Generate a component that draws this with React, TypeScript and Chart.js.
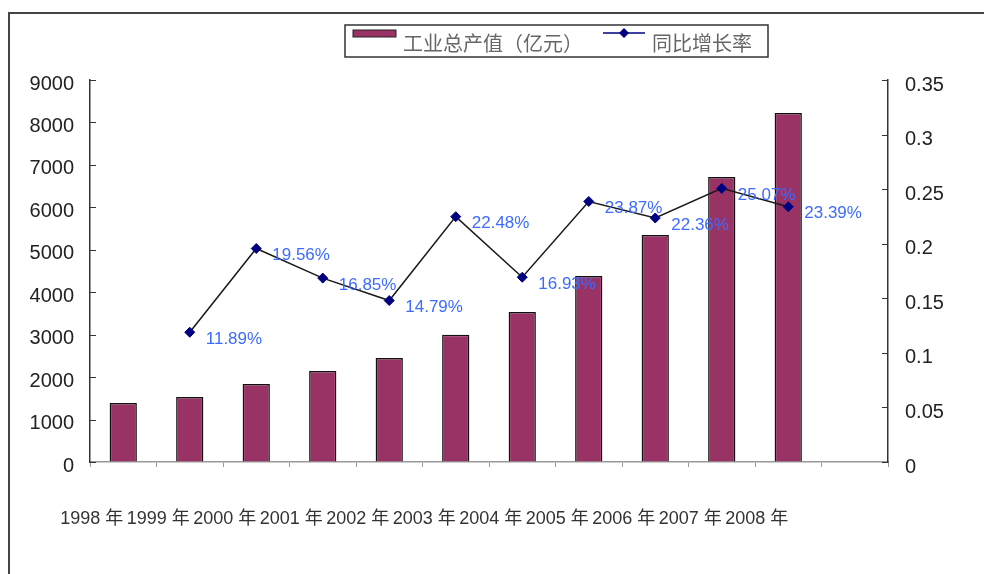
import React, { useEffect, useRef } from "react";
import { Chart, registerables } from "chart.js";

Chart.register(...registerables);

const categories = ["1998 年", "1999 年", "2000 年", "2001 年", "2002 年", "2003 年", "2004 年", "2005 年", "2006 年", "2007 年", "2008 年", ""];
const outputValues = [1390, 1530, 1840, 2145, 2450, 3000, 3535, 4380, 5350, 6715, 8225, null];
const growthRates = [null, 0.1189, 0.1956, 0.1685, 0.1479, 0.2248, 0.1693, 0.2387, 0.2236, 0.2507, 0.2339, null];
const leftTicks = [0, 1000, 2000, 3000, 4000, 5000, 6000, 7000, 8000, 9000];
const rightTickLabels = ["0", "0.05", "0.1", "0.15", "0.2", "0.25", "0.3", "0.35"];
const legendLabels = ["工业总产值（亿元）", "同比增长率"];

const BAR_COLOR = "#993366";
const LINE_COLOR = "#1a1a1a";
const MARKER_COLOR = "#000080";
const LABEL_BLUE = "#3d6bff";
const FONT = '"Liberation Sans", Arial, "Noto Sans CJK SC", sans-serif';
const CJK_FONT = '"Noto Sans CJK SC", "Liberation Sans", sans-serif';

const decorPlugin = {
  id: "decor",
  beforeDraw(chart: any) {
    const ctx = chart.ctx;
    ctx.save();
    ctx.fillStyle = "#ffffff";
    ctx.fillRect(0, 0, chart.width, chart.height);
    // outer frame
    ctx.strokeStyle = "#444";
    ctx.lineWidth = 2;
    ctx.beginPath();
    ctx.moveTo(9, chart.height);
    ctx.lineTo(9, 13);
    ctx.lineTo(chart.width, 13);
    ctx.stroke();
    ctx.restore();
  },
  afterDraw(chart: any) {
    const ctx = chart.ctx;
    const area = chart.chartArea;
    ctx.save();
    // inward tick marks on the value axes
    ctx.strokeStyle = "#333";
    ctx.lineWidth = 1;
    const ys = chart.scales.y;
    leftTicks.forEach((v) => {
      const py = Math.round(ys.getPixelForValue(v)) + 0.5;
      ctx.beginPath();
      ctx.moveTo(area.left, py);
      ctx.lineTo(area.left + 6, py);
      ctx.stroke();
    });
    const ys1 = chart.scales.y1;
    rightTickLabels.forEach((t) => {
      const py = Math.round(ys1.getPixelForValue(parseFloat(t))) + 0.5;
      ctx.beginPath();
      ctx.moveTo(area.right - 6, py);
      ctx.lineTo(area.right, py);
      ctx.stroke();
    });

    // legend
    const lx = 345, ly = 25, lw = 423, lh = 32;
    ctx.strokeStyle = "#333";
    ctx.lineWidth = 1.5;
    ctx.strokeRect(lx, ly, lw, lh);
    ctx.fillStyle = BAR_COLOR;
    ctx.fillRect(353, 30, 43, 7);
    ctx.strokeStyle = "#222";
    ctx.lineWidth = 1;
    ctx.strokeRect(353, 30, 43, 7);
    ctx.font = "20px " + CJK_FONT;
    ctx.fillStyle = "#666";
    ctx.textBaseline = "middle";
    ctx.textAlign = "left";
    ctx.fillText(legendLabels[0], 403, 43);
    ctx.strokeStyle = MARKER_COLOR;
    ctx.lineWidth = 1.5;
    ctx.beginPath();
    ctx.moveTo(603, 33);
    ctx.lineTo(645, 33);
    ctx.stroke();
    ctx.fillStyle = MARKER_COLOR;
    ctx.beginPath();
    ctx.moveTo(624, 28);
    ctx.lineTo(629, 33);
    ctx.lineTo(624, 38);
    ctx.lineTo(619, 33);
    ctx.closePath();
    ctx.fill();
    ctx.fillStyle = "#666";
    ctx.fillText(legendLabels[1], 652, 43);
    ctx.restore();
  },
  afterDatasetsDraw(chart: any) {
    const ctx = chart.ctx;
    const meta = chart.getDatasetMeta(1);
    ctx.save();
    ctx.font = "17px " + FONT;
    ctx.fillStyle = LABEL_BLUE;
    ctx.textBaseline = "middle";
    ctx.textAlign = "left";
    meta.data.forEach((pt: any, i: number) => {
      const v = growthRates[i];
      if (v == null) return;
      ctx.fillText((v * 100).toFixed(2) + "%", pt.x + 16, pt.y + 7);
    });
    ctx.restore();
  },
};

export default function App() {
  const ref = useRef<HTMLCanvasElement | null>(null);
  useEffect(() => {
    if (!ref.current) return;
    const chart = new Chart(ref.current, {
      data: {
        labels: categories,
        datasets: [
          {
            type: "bar",
            label: legendLabels[0],
            data: outputValues,
            backgroundColor: BAR_COLOR,
            borderColor: "#111",
            borderWidth: 1.5,
            barPercentage: 0.41,
            categoryPercentage: 1,
            yAxisID: "y",
            order: 1,
          } as any,
          {
            type: "line",
            label: legendLabels[1],
            data: growthRates,
            borderColor: LINE_COLOR,
            borderWidth: 1.5,
            pointStyle: "rectRot",
            pointRadius: 5,
            pointBackgroundColor: MARKER_COLOR,
            pointBorderColor: MARKER_COLOR,
            pointBorderWidth: 1,
            tension: 0,
            yAxisID: "y1",
            order: 0,
          } as any,
        ],
      },
      options: {
        responsive: false,
        animation: false,
        devicePixelRatio: 1,
        layout: { padding: { top: 80, bottom: 32, left: 0, right: 0 } },
        plugins: {
          legend: { display: false },
          tooltip: { enabled: false },
        },
        scales: {
          x: {
            offset: true,
            afterFit: (s: any) => { s.height = 80; },
            grid: { display: true, drawOnChartArea: false, drawTicks: true, tickLength: 5, color: "#999", offset: true },
            border: { display: true, color: "#999", width: 1.5 },
            ticks: {
              align: "end",
              autoSkip: false,
              maxRotation: 0,
              minRotation: 0,
              padding: 41,
              color: "#333",
              font: { size: 18, family: FONT },
            },
          },
          y: {
            position: "left",
            min: 0,
            max: 9000,
            afterFit: (s: any) => { s.width = 90; },
            grid: { display: true, drawOnChartArea: false, drawTicks: false },
            border: { display: true, color: "#333", width: 1.5 },
            ticks: {
              stepSize: 1000,
              padding: 16,
              labelOffset: 4,
              color: "#222",
              font: { size: 20, family: FONT },
              callback: (v: any) => String(v),
            },
          },
          y1: {
            position: "right",
            min: 0,
            max: 0.35,
            afterFit: (s: any) => { s.width = 96; },
            grid: { display: true, drawOnChartArea: false, drawTicks: false },
            border: { display: true, color: "#333", width: 1.5 },
            ticks: {
              stepSize: 0.05,
              padding: 17,
              labelOffset: 5,
              color: "#222",
              font: { size: 20, family: FONT },
              callback: (v: any) => rightTickLabels[Math.round(Number(v) / 0.05)] ?? "",
            },
          },
        },
      } as any,
      plugins: [decorPlugin],
    });
    return () => chart.destroy();
  }, []);
  return (
    <div style={{ position: "absolute", left: 0, top: 0, width: 984, height: 574 }}>
      <canvas ref={ref} width={984} height={574} style={{ width: 984, height: 574, display: "block" }} />
    </div>
  );
}
